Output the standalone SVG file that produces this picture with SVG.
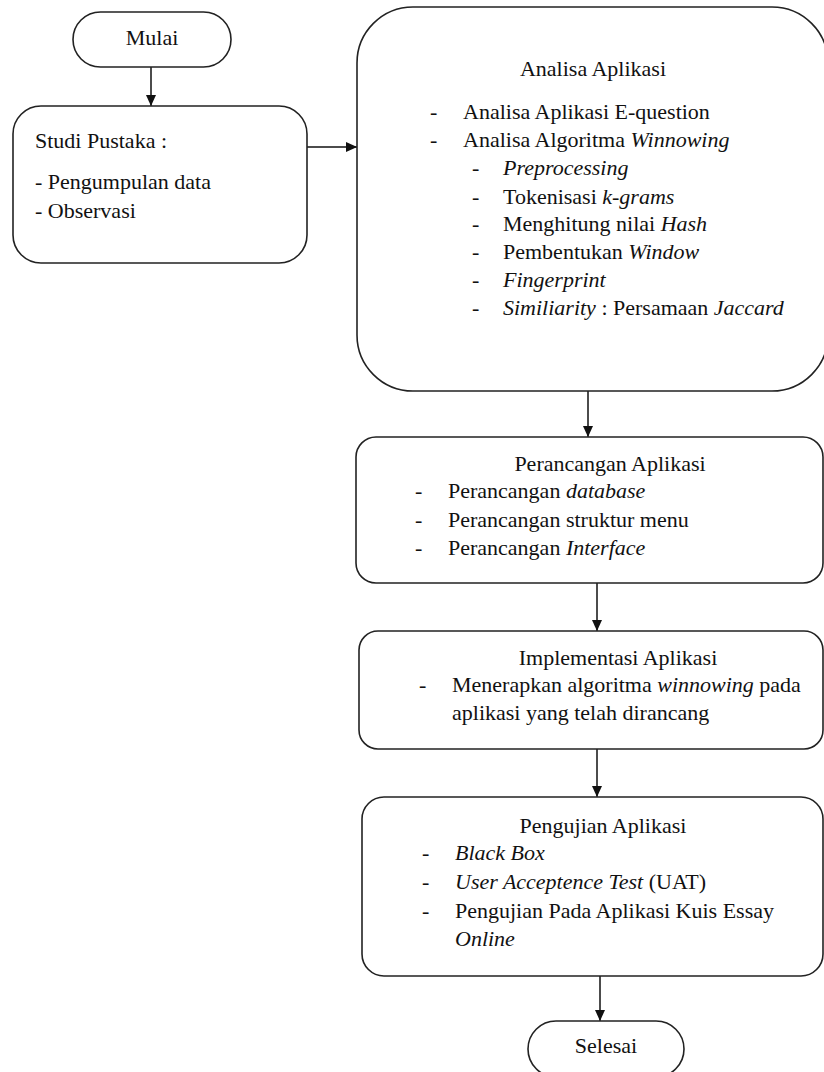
<svg xmlns="http://www.w3.org/2000/svg" width="824" height="1072" viewBox="0 0 824 1072">
<style>
.box{fill:#fff;stroke:#222;stroke-width:1.6}
.t{font-family:"Liberation Serif","Times New Roman",serif;font-size:22px;fill:#111}
.c{text-anchor:middle}
.i{font-style:italic}
.edge{stroke:#111;stroke-width:1.5;fill:none;marker-end:url(#arr)}
</style>
<defs>
<marker id="arr" markerUnits="userSpaceOnUse" markerWidth="10" markerHeight="11" refX="11" refY="5" orient="auto">
<path d="M0,0 L11,5 L0,10 z" fill="#111"/>
</marker>
</defs>
<rect width="824" height="1072" fill="#fff"/>
<g id="connectors">
<line class="edge" x1="151" y1="67" x2="151" y2="106"/>
<line class="edge" x1="307" y1="147" x2="357" y2="147"/>
<line class="edge" x1="588" y1="391" x2="588" y2="437"/>
<line class="edge" x1="597" y1="583" x2="597" y2="631"/>
<line class="edge" x1="597" y1="749" x2="597" y2="797"/>
<line class="edge" x1="600" y1="976" x2="600" y2="1021"/>
</g>
<g id="mulai">
<rect class="box" x="73" y="12" width="158" height="55" rx="27.5"/>
<text class="t c" x="152" y="45">Mulai</text>
</g>
<g id="studi">
<rect class="box" x="13" y="106" width="294" height="157" rx="28"/>
<text class="t" x="35" y="148">Studi Pustaka :</text>
<text class="t" x="35" y="189">- Pengumpulan data</text>
<text class="t" x="35" y="218">- Observasi</text>
</g>
<g id="analisa">
<rect class="box" x="357" y="7" width="471" height="384" rx="56"/>
<text class="t c" x="593" y="76">Analisa Aplikasi</text>
<text class="t" x="430" y="119">-</text>
<text class="t" x="463" y="119">Analisa Aplikasi E-question</text>
<text class="t" x="430" y="147">-</text>
<text class="t" x="463" y="147">Analisa Algoritma <tspan class="i">Winnowing</tspan></text>
<text class="t" x="472" y="175">-</text>
<text class="t i" x="503" y="175">Preprocessing</text>
<text class="t" x="472" y="204">-</text>
<text class="t" x="503" y="204">Tokenisasi <tspan class="i">k-grams</tspan></text>
<text class="t" x="472" y="231">-</text>
<text class="t" x="503" y="231">Menghitung nilai <tspan class="i">Hash</tspan></text>
<text class="t" x="472" y="259">-</text>
<text class="t" x="503" y="259">Pembentukan <tspan class="i">Window</tspan></text>
<text class="t" x="472" y="287">-</text>
<text class="t i" x="503" y="287">Fingerprint</text>
<text class="t" x="472" y="315">-</text>
<text class="t" x="503" y="315"><tspan class="i">Similiarity</tspan> : Persamaan <tspan class="i">Jaccard</tspan></text>
</g>
<g id="perancangan">
<rect class="box" x="356" y="437" width="467" height="146" rx="20"/>
<text class="t c" x="610" y="471">Perancangan Aplikasi</text>
<text class="t" x="415" y="498">-</text>
<text class="t" x="448" y="498">Perancangan <tspan class="i">database</tspan></text>
<text class="t" x="415" y="527">-</text>
<text class="t" x="448" y="527">Perancangan struktur menu</text>
<text class="t" x="415" y="555">-</text>
<text class="t" x="448" y="555">Perancangan <tspan class="i">Interface</tspan></text>
</g>
<g id="implementasi">
<rect class="box" x="359" y="631" width="464" height="118" rx="19"/>
<text class="t c" x="618" y="665">Implementasi Aplikasi</text>
<text class="t" x="419" y="692">-</text>
<text class="t" x="452" y="692">Menerapkan algoritma <tspan class="i">winnowing</tspan> pada</text>
<text class="t" x="452" y="720">aplikasi yang telah dirancang</text>
</g>
<g id="pengujian">
<rect class="box" x="362" y="797" width="461" height="179" rx="22"/>
<text class="t c" x="603" y="833">Pengujian Aplikasi</text>
<text class="t" x="422" y="860">-</text>
<text class="t i" x="455" y="860">Black Box</text>
<text class="t" x="422" y="889">-</text>
<text class="t" x="455" y="889"><tspan class="i">User Acceptence Test</tspan> (UAT)</text>
<text class="t" x="422" y="918">-</text>
<text class="t" x="455" y="918">Pengujian Pada Aplikasi Kuis Essay</text>
<text class="t i" x="455" y="946">Online</text>
</g>
<g id="selesai">
<rect class="box" x="528" y="1021" width="156" height="56" rx="28"/>
<text class="t c" x="606" y="1053">Selesai</text>
</g>
</svg>
